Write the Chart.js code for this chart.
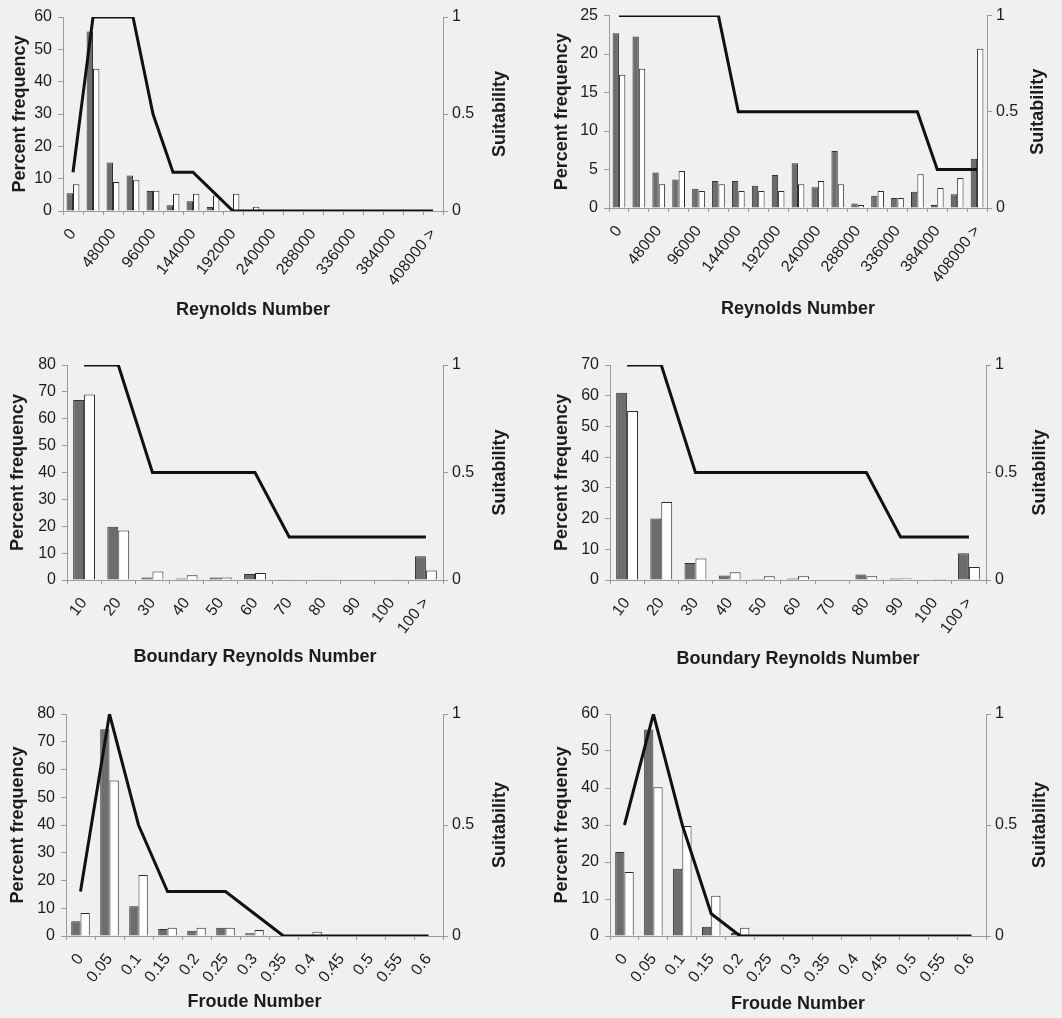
<!DOCTYPE html>
<html lang="en">
    <head>
        <meta charset="UTF-8">
        <title>Percent frequency and suitability</title>
        <script src="https://cdn.jsdelivr.net/npm/chart.js"></script>
        <style>
            html, body { margin: 0; padding: 0; background: #eff0ef; }
            #page { position: relative; width: 1062px; height: 1018px; overflow: hidden; }
            #page canvas { position: absolute; }
        </style>
    </head>
    <body>
        <div id="page">
            <canvas id="reA" width="530" height="335" style="left:0px;top:0px"></canvas>
            <canvas id="reB" width="532" height="335" style="left:530px;top:0px"></canvas>
            <canvas id="brA" width="530" height="335" style="left:0px;top:345px"></canvas>
            <canvas id="brB" width="532" height="335" style="left:530px;top:345px"></canvas>
            <canvas id="frA" width="530" height="328" style="left:0px;top:690px"></canvas>
            <canvas id="frB" width="532" height="328" style="left:530px;top:690px"></canvas>
        </div>
        <script>
            // categories
            const reCats = ['0', '24000', '48000', '72000', '96000', '120000', '144000', '168000', '192000', '216000',
                '240000', '264000', '288000', '312000', '336000', '360000', '384000', '408000', '408000 >'];
            const brCats = ['10', '20', '30', '40', '50', '60', '70', '80', '90', '100', '100 >'];
            const frCats = ['0', '0.05', '0.1', '0.15', '0.2', '0.25', '0.3', '0.35', '0.4', '0.45', '0.5', '0.55', '0.6'];

            // Reynolds number, left and right panels
            const reGrayA = [5.5, 55.5, 15, 11, 6.2, 1.8, 3, 1.2, 0, 0, 0, 0, 0, 0, 0, 0, 0, 0, 0];
            const reWhiteA = [8.3, 44, 9, 9.5, 6.3, 5.3, 5.3, 4.8, 5.3, 1.3, 0, 0, 0, 0, 0, 0, 0, 0, 0];
            const reSuitA = [0.2, 1, 1, 1, 0.5, 0.2, 0.2, 0.1, 0, 0, 0, 0, 0, 0, 0, 0, 0, 0, 0];
            const reGrayB = [22.7, 22.3, 4.6, 3.7, 2.5, 3.5, 3.5, 2.9, 4.3, 5.8, 2.7, 7.4, 0.6, 1.6, 1.3, 2.1, 0.4, 1.8, 6.4];
            const reWhiteB = [17.3, 18.1, 3.1, 4.8, 2.2, 3.1, 2.2, 2.2, 2.2, 3.1, 3.5, 3.1, 0.4, 2.2, 1.3, 4.4, 2.6, 3.9, 20.7];
            const reSuitB = [1, 1, 1, 1, 1, 1, 0.5, 0.5, 0.5, 0.5, 0.5, 0.5, 0.5, 0.5, 0.5, 0.5, 0.2, 0.2, 0.2];

            // Boundary Reynolds number
            const brGrayA = [67, 19.8, 0.9, 0.6, 0.9, 2.2, 0.3, 0.3, 0, 0.2, 8.8];
            const brWhiteA = [69, 18.4, 3.2, 1.8, 0.9, 2.6, 0.2, 0.1, 0, 0.1, 3.5];
            const brSuitA = [1, 1, 0.5, 0.5, 0.5, 0.5, 0.2, 0.2, 0.2, 0.2, 0.2];
            const brGrayB = [61, 20, 5.5, 1.5, 0.3, 0.5, 0, 1.8, 0.5, 0.2, 8.7];
            const brWhiteB = [55, 25.4, 7, 2.5, 1.2, 1.2, 0, 1.2, 0.6, 0.3, 4.2];
            const brSuitB = [1, 1, 0.5, 0.5, 0.5, 0.5, 0.5, 0.5, 0.2, 0.2, 0.2];

            // Froude number
            const frGrayA = [5.3, 74.5, 10.7, 2.5, 1.9, 3, 1, 0, 0, 0, 0, 0, 0];
            const frWhiteA = [8.3, 56, 22, 3, 3, 3, 2.2, 0, 1.5, 0, 0, 0, 0];
            const frSuitA = [0.2, 1, 0.5, 0.2, 0.2, 0.2, 0.1, 0, 0, 0, 0, 0, 0];
            const frGrayB = [22.7, 55.8, 18.2, 2.5, 0.8, 0, 0, 0, 0, 0, 0, 0, 0];
            const frWhiteB = [17.3, 40.2, 29.7, 10.9, 2.2, 0, 0, 0, 0, 0, 0, 0, 0];
            const frSuitB = [0.5, 1, 0.5, 0.1, 0, 0, 0, 0, 0, 0, 0, 0, 0];

            const axisColor = '#9a9a9a';
            const textColor = '#1c1c1c';
            const titleFont = { size: 18, weight: 'bold' };
            Chart.defaults.font.family = "'Liberation Sans', Arial, sans-serif";
            Chart.defaults.color = textColor;

            // right axis title reads bottom-to-top like the left one
            const rightTitle = {
                id: 'rightTitle',
                afterDraw(chart, args, opts) {
                    const ctx = chart.ctx;
                    const area = chart.chartArea;
                    ctx.save();
                    ctx.translate(opts.x, (area.top + area.bottom) / 2);
                    ctx.rotate(-Math.PI / 2);
                    ctx.font = "bold 18px 'Liberation Sans', Arial, sans-serif";
                    ctx.fillStyle = textColor;
                    ctx.textAlign = 'center';
                    ctx.textBaseline = 'middle';
                    ctx.fillText(opts.text, 0, 0);
                    ctx.restore();
                }
            };

            // box = [areaLeft, areaRight, areaTop, areaBottom, leftTitlePad, rightTitleX, bottomTitlePad]
            function panel(id, cats, gray, white, suit, yMax, yStep, xTitle, box, labelStep) {
                const canvas = document.getElementById(id);
                const w = canvas.width, h = canvas.height;
                return new Chart(canvas.getContext('2d'), {
                    type: 'bar',
                    data: {
                        labels: cats,
                        datasets: [
                            {
                                type: 'line',
                                data: suit,
                                yAxisID: 'y1',
                                borderColor: '#111111',
                                borderWidth: 3,
                                pointRadius: 0,
                                tension: 0,
                                order: 0
                            },
                            {
                                data: gray,
                                backgroundColor: '#6e6c6c',
                                borderColor: '#333333',
                                borderWidth: 1,
                                categoryPercentage: 0.64,
                                barPercentage: 1,
                                order: 1
                            },
                            {
                                data: white,
                                backgroundColor: '#ffffff',
                                borderColor: '#2a2a2a',
                                borderWidth: 1,
                                categoryPercentage: 0.64,
                                barPercentage: 1,
                                order: 1
                            }
                        ]
                    },
                    plugins: [rightTitle],
                    options: {
                        responsive: false,
                        animation: false,
                        layout: { padding: { top: box[2], left: 0, right: 0, bottom: 0 } },
                        plugins: {
                            legend: { display: false },
                            tooltip: { enabled: false },
                            rightTitle: { text: 'Suitability', x: box[5] }
                        },
                        scales: {
                            x: {
                                grid: { drawOnChartArea: false, color: axisColor, tickLength: 4 },
                                border: { color: axisColor },
                                ticks: {
                                    autoSkip: false,
                                    minRotation: 52,
                                    maxRotation: 52,
                                    padding: 10,
                                    font: { size: 16 },
                                    callback: function (value, index) {
                                        return index % labelStep === 0 ? this.getLabelForValue(value) : '';
                                    }
                                },
                                title: {
                                    display: true,
                                    text: xTitle,
                                    font: titleFont,
                                    padding: { top: 0, bottom: box[6] }
                                },
                                afterFit: function (scale) { scale.height = h - box[3]; }
                            },
                            y: {
                                position: 'left',
                                min: 0,
                                max: yMax,
                                grid: { drawOnChartArea: false, color: axisColor, tickLength: 5 },
                                border: { color: axisColor },
                                ticks: { stepSize: yStep, padding: 6, font: { size: 16 } },
                                title: {
                                    display: true,
                                    text: 'Percent frequency',
                                    font: titleFont,
                                    padding: { top: box[4], bottom: 0 }
                                },
                                afterFit: function (scale) { scale.width = box[0]; }
                            },
                            y1: {
                                position: 'right',
                                min: 0,
                                max: 1,
                                grid: { drawOnChartArea: false, color: axisColor, tickLength: 5 },
                                border: { color: axisColor },
                                ticks: {
                                    stepSize: 0.5,
                                    padding: 4,
                                    font: { size: 16 },
                                    callback: function (value) { return String(value); }
                                },
                                afterFit: function (scale) { scale.width = w - box[1]; }
                            }
                        }
                    }
                });
            }

            panel('reA', reCats, reGrayA, reWhiteA, reSuitA, 60, 10, 'Reynolds Number', [63, 443, 17, 211, 9, 500, 14], 2);
            panel('reB', reCats, reGrayB, reWhiteB, reSuitB, 25, 5, 'Reynolds Number', [79, 457, 14, 208, 21, 508, 15], 2);
            panel('brA', brCats, brGrayA, brWhiteA, brSuitA, 80, 10, 'Boundary Reynolds Number', [67, 443, 20, 235, 7, 500, 12], 1);
            panel('brB', brCats, brGrayB, brWhiteB, brSuitB, 70, 10, 'Boundary Reynolds Number', [80, 456, 20, 235, 21, 510, 10], 1);
            panel('frA', frCats, frGrayA, frWhiteA, frSuitA, 80, 10, 'Froude Number', [66, 443, 24, 246, 7, 500, 5], 1);
            panel('frB', frCats, frGrayB, frWhiteB, frSuitB, 60, 10, 'Froude Number', [80, 456, 24, 246, 21, 510, 3], 1);
        </script>
    </body>
</html>
